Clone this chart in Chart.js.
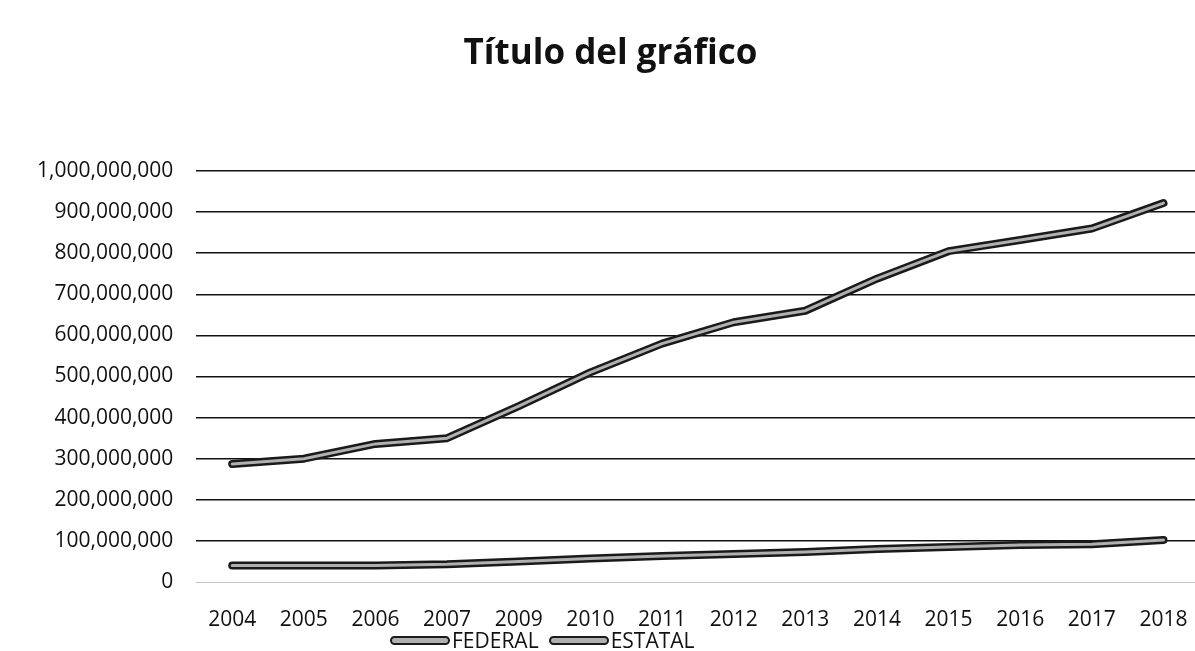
<!DOCTYPE html>
<html>
<head>
<meta charset="utf-8">
<script src="https://cdn.jsdelivr.net/npm/chart.js@4"></script>
<style>
    html, body { margin: 0; padding: 0; background: #fff; overflow: hidden; }
    #wrap { width: 1207px; height: 651px; position: relative; }
    #legend {
        position: absolute; left: 390px; top: 628px; height: 24px;
        display: flex; align-items: center;
        font-family: 'Open Sans', 'Liberation Sans', sans-serif; font-size: 21px; line-height: 24px; color: #111;
    }
    #legend .item { display: flex; align-items: center; margin-right: 10px; }
    #legend .swatch {
        width: 56px; height: 5px; border: 2px solid #1a1a1a; border-radius: 5px;
        background: #b0b0b0; margin-right: 2px;
    }
</style>
</head>
<body>
<div id="wrap">
    <canvas id="lineChart"></canvas>
    <div id="legend"></div>
</div>
<script>
// Data (note: 2008 is absent in the source)
const years = ['2004', '2005', '2006', '2007', '2009', '2010', '2011', '2012', '2013', '2014', '2015', '2016', '2017', '2018'];
const federal = [287000000, 300000000, 336000000, 350000000, 428000000, 510000000, 580000000, 632000000, 660000000, 738000000, 805000000, 832000000, 860000000, 922000000];
const estatal = [40000000, 40000000, 40000000, 43000000, 50000000, 57000000, 63000000, 68000000, 73000000, 80000000, 85000000, 90000000, 92000000, 102000000];
const yTicks = [0, 100000000, 200000000, 300000000, 400000000, 500000000, 600000000, 700000000, 800000000, 900000000, 1000000000];

const FONT = "'Open Sans', 'Liberation Sans', sans-serif";

// Inner light stroke to mimic the doubled (outlined) line look
const innerStroke = {
    id: 'innerStroke',
    afterDatasetsDraw(chart) {
        const ctx = chart.ctx;
        chart.data.datasets.forEach((ds, i) => {
            const pts = chart.getDatasetMeta(i).data;
            if (!pts.length) return;
            ctx.save();
            ctx.beginPath();
            ctx.moveTo(pts[0].x, pts[0].y);
            for (let k = 1; k < pts.length; k++) ctx.lineTo(pts[k].x, pts[k].y);
            ctx.strokeStyle = '#b0b0b0';
            ctx.lineWidth = 3;
            ctx.lineJoin = 'round';
            ctx.lineCap = 'round';
            ctx.stroke();
            ctx.restore();
        });
    }
};

// Legend built from the datasets, placed tight under the axis labels
const htmlLegend = {
    id: 'htmlLegend',
    afterUpdate(chart) {
        const box = document.getElementById('legend');
        box.innerHTML = '';
        chart.data.datasets.forEach(ds => {
            const item = document.createElement('div');
            item.className = 'item';
            const sw = document.createElement('span');
            sw.className = 'swatch';
            const txt = document.createElement('span');
            txt.textContent = ds.label;
            item.appendChild(sw);
            item.appendChild(txt);
            box.appendChild(item);
        });
    }
};

function initLineChart() {
    const ctx = document.getElementById('lineChart');
    new Chart(ctx.getContext('2d'), {
        type: 'line',
        data: {
            labels: years,
            datasets: [{
                label: 'FEDERAL',
                data: federal,
                borderColor: '#1a1a1a',
                borderWidth: 8,
                pointRadius: 0,
                tension: 0,
                borderCapStyle: 'round',
                borderJoinStyle: 'round'
            }, {
                label: 'ESTATAL',
                data: estatal,
                borderColor: '#1a1a1a',
                borderWidth: 8,
                pointRadius: 0,
                tension: 0,
                borderCapStyle: 'round',
                borderJoinStyle: 'round'
            }]
        },
        options: {
            responsive: true,
            maintainAspectRatio: false,
            animation: false,
            layout: { padding: { left: 14, right: 0, top: 0, bottom: 1 } },
            plugins: {
                title: {
                    display: true,
                    text: 'Título del gráfico',
                    color: '#111',
                    font: { family: FONT, size: 35, weight: 'bold', lineHeight: 1.2 },
                    padding: { top: 33, bottom: 96 }
                },
                legend: { display: false },
                tooltip: { enabled: false }
            },
            scales: {
                x: {
                    offset: true,
                    grid: { display: false },
                    border: { display: false },
                    ticks: {
                        color: '#111',
                        font: { family: FONT, size: 21, lineHeight: 1.0 },
                        maxRotation: 0,
                        autoSkip: false,
                        padding: 19.5
                    }
                },
                y: {
                    min: 0,
                    max: 1000000000,
                    afterBuildTicks: function(axis) {
                        axis.ticks = yTicks.map(v => ({ value: v }));
                    },
                    border: { display: false },
                    grid: {
                        color: function(c) { return c.tick.value === 0 ? '#c4c4c4' : '#111'; },
                        lineWidth: function(c) { return c.tick.value === 0 ? 1 : 1.6; },
                        drawTicks: false
                    },
                    ticks: {
                        color: '#111',
                        font: { family: FONT, size: 21, lineHeight: 1.0 },
                        padding: 23,
                        callback: function(value) {
                            return Number(value).toLocaleString('en-US');
                        }
                    }
                }
            }
        },
        plugins: [innerStroke, htmlLegend]
    });
}

document.addEventListener('DOMContentLoaded', initLineChart);
</script>
</body>
</html>
